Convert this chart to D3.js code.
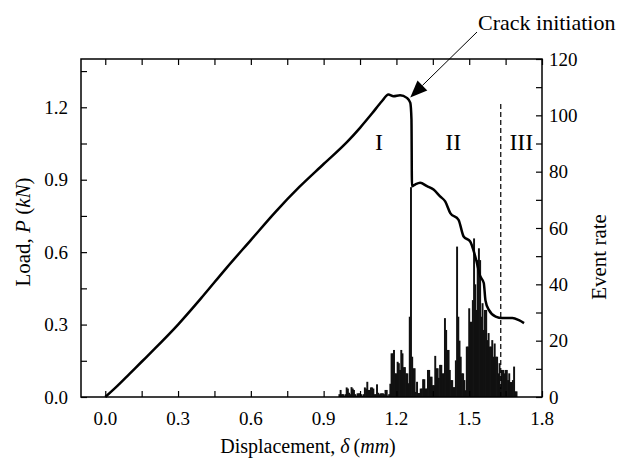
<!DOCTYPE html>
<html>
<head>
<meta charset="utf-8">
<script src="https://cdn.jsdelivr.net/npm/d3@7"></script>
<style>
body { margin: 0; background: #fff; }
svg { font-family: "Liberation Serif", "Times New Roman", serif; }
</style>
</head>
<body>
<script>
// load-displacement curve
var disp = [0, 0.05, 0.1, 0.15, 0.2, 0.3, 0.4, 0.5, 0.6, 0.7, 0.8, 0.9, 1.0, 1.05, 1.1, 1.14,
    1.167, 1.188, 1.215, 1.243, 1.257, 1.262, 1.264, 1.277, 1.298, 1.326, 1.353, 1.38, 1.401,
    1.422, 1.456, 1.477, 1.504, 1.525, 1.546, 1.56, 1.567, 1.581, 1.609, 1.636, 1.678, 1.705, 1.726];
var load = [0, 0.046, 0.096, 0.146, 0.196, 0.30, 0.415, 0.535, 0.65, 0.765, 0.87, 0.965, 1.06, 1.115, 1.175, 1.225,
    1.253, 1.246, 1.25, 1.239, 1.219, 1.15, 0.873, 0.88, 0.887, 0.873, 0.859, 0.831, 0.81,
    0.762, 0.734, 0.665, 0.644, 0.582, 0.499, 0.472, 0.40, 0.361, 0.333, 0.327, 0.327, 0.318, 0.306];

// acoustic emission event rate, one bar every 0.005 mm from 0.965 mm
var eventStart = 0.965, eventStep = 0.005;
var eventRate = [1, 2.5, 1, 1, 0.5, 1, 3.4, 3, 1.5, 1, 3.5, 3, 2.5, 1, 0.5, 1.3, 1.3, 1.3, 1, 0.5,
    1, 3.4, 3, 5.4, 2.5, 2.5, 3.4, 3.4, 3, 1, 1, 4.5, 1.5, 1, 1.3, 1.3, 1.3, 1, 2.5, 2.5,
    0.5, 1, 4.7, 15.5, 15.5, 16.7, 8.4, 8.4, 12.5, 12, 9.6, 16.7, 15.5, 10.6, 10.6, 8.4, 8.4, 4.9, 28.5, 74.5,
    14.3, 10.2, 10.2, 1.8, 5.4, 1.4, 1.4, 3, 3, 6.3, 6.3, 3, 3, 9.6, 9.6, 7.2, 7.2, 4.2, 4.2, 14.6,
    10.2, 10.2, 6.8, 11.4, 11.4, 8.4, 8.4, 28, 23.8, 16.7, 16.7, 9.6, 6, 6, 3.5, 3.5, 13, 53.4, 28.5, 20,
    14.3, 8.4, 8.4, 6, 2.4, 17.9, 17.9, 31.5, 26.7, 26.7, 34.4, 56.3, 40, 30.9, 48.6, 52.8, 48.6, 28.5, 33.3, 23.8,
    30.9, 30.9, 20.2, 22.7, 17.9, 17.9, 20.2, 14.3, 19, 14.3, 14.3, 8.4, 12, 3.5, 9.6, 9.6, 8.4, 9.6, 9.6, 6,
    8.4, 5.3, 5.3, 6, 10.8, 2, 2];

var xTicks = [0, 0.3, 0.6, 0.9, 1.2, 1.5, 1.8];
var loadTicks = [0, 0.3, 0.6, 0.9, 1.2];
var rateTicks = [0, 20, 40, 60, 80, 100, 120];
var regions = [{label: "I", d: 1.128}, {label: "II", d: 1.434}, {label: "III", d: 1.715}];
var boundary = 1.63;

var width = 619, height = 462;
var margin = {top: 59, right: 77, bottom: 65, left: 81};

var svg = d3.select("body").append("svg")
    .attr("width", width)
    .attr("height", height);

var x = d3.scaleLinear().domain([-0.1, 1.8]).range([margin.left, width - margin.right]);
var yL = d3.scaleLinear().domain([0, 1.4]).range([height - margin.bottom, margin.top]);
var yR = d3.scaleLinear().domain([0, 120]).range([height - margin.bottom, margin.top]);

var x0 = margin.left, x1 = width - margin.right, y0 = height - margin.bottom, y1 = margin.top;

// event rate bars (slightly overlapping so the busy part reads solid)
var barW = (x(eventStep) - x(0)) * 1.6;
svg.append("g")
    .selectAll("rect")
    .data(eventRate)
    .enter().append("rect")
    .attr("x", function (d, i) { return x(eventStart + i * eventStep) - barW / 2; })
    .attr("y", function (d) { return yR(d); })
    .attr("width", barW)
    .attr("height", function (d) { return y0 - yR(d); })
    .attr("fill", "#111");

// boundary II / III
svg.append("line")
    .attr("x1", x(boundary)).attr("x2", x(boundary))
    .attr("y1", yR(0)).attr("y2", yR(104))
    .attr("stroke", "#000")
    .attr("stroke-width", 1.2)
    .attr("stroke-dasharray", "5,3");

// load curve
var line = d3.line()
    .x(function (d, i) { return x(disp[i]); })
    .y(function (d) { return yL(d); })
    .curve(d3.curveMonotoneX);

svg.append("path")
    .datum(load)
    .attr("d", line)
    .attr("fill", "none")
    .attr("stroke", "#000")
    .attr("stroke-width", 2.5)
    .attr("stroke-linejoin", "round");

// axes, ticks pointing inside
var minorX = d3.range(0, 1.81, 0.15);
var minorL = d3.range(0, 1.36, 0.15);
var minorR = d3.range(0, 121, 10);

svg.append("g")
    .attr("transform", "translate(0," + y0 + ")")
    .call(d3.axisTop(x).tickValues(minorX).tickSize(6).tickFormat(""));
svg.append("g")
    .attr("transform", "translate(0," + y1 + ")")
    .call(d3.axisBottom(x).tickValues(minorX).tickSize(6).tickFormat(""));
svg.append("g")
    .attr("transform", "translate(" + x0 + ",0)")
    .call(d3.axisRight(yL).tickValues(minorL).tickSize(6).tickFormat(""));
svg.append("g")
    .attr("transform", "translate(" + x1 + ",0)")
    .call(d3.axisLeft(yR).tickValues(minorR).tickSize(6).tickFormat(""));

svg.selectAll(".domain").remove();
svg.selectAll(".tick line").attr("stroke", "#000").attr("stroke-width", 1.2);

svg.append("rect")
    .attr("x", x0).attr("y", y1)
    .attr("width", x1 - x0).attr("height", y0 - y1)
    .attr("fill", "none")
    .attr("stroke", "#000")
    .attr("stroke-width", 1.5);

// tick labels
svg.append("g").selectAll("text")
    .data(xTicks)
    .enter().append("text")
    .attr("x", function (d) { return x(d); })
    .attr("y", y0 + 28)
    .attr("text-anchor", "middle")
    .attr("font-size", 19)
    .text(function (d) { return d.toFixed(1); });

svg.append("g").selectAll("text")
    .data(loadTicks)
    .enter().append("text")
    .attr("x", x0 - 13)
    .attr("y", function (d) { return yL(d); })
    .attr("dy", "0.35em")
    .attr("text-anchor", "end")
    .attr("font-size", 19)
    .text(function (d) { return d.toFixed(1); });

svg.append("g").selectAll("text")
    .data(rateTicks)
    .enter().append("text")
    .attr("x", x1 + 7)
    .attr("y", function (d) { return yR(d); })
    .attr("dy", "0.35em")
    .attr("font-size", 19)
    .text(function (d) { return d; });

// axis titles
var xt = svg.append("text")
    .attr("x", 308).attr("y", 453)
    .attr("text-anchor", "middle")
    .attr("font-size", 20);
xt.append("tspan").text("Displacement, ");
xt.append("tspan").attr("font-style", "italic").text("δ");
xt.append("tspan").text("\u2009(");
xt.append("tspan").attr("font-style", "italic").text("mm");
xt.append("tspan").text(")");

var yt = svg.append("text")
    .attr("transform", "translate(30,232) rotate(-90)")
    .attr("text-anchor", "middle")
    .attr("font-size", 21);
yt.append("tspan").text("Load, ");
yt.append("tspan").attr("font-style", "italic").text("P");
yt.append("tspan").text(" (");
yt.append("tspan").attr("font-style", "italic").text("kN");
yt.append("tspan").text(")");

svg.append("text")
    .attr("transform", "translate(606,257) rotate(-90)")
    .attr("text-anchor", "middle")
    .attr("font-size", 21)
    .text("Event rate");

// region labels
svg.append("g").selectAll("text")
    .data(regions)
    .enter().append("text")
    .attr("x", function (d) { return x(d.d); })
    .attr("y", 150)
    .attr("text-anchor", "middle")
    .attr("font-size", 24)
    .text(function (d) { return d.label; });

// crack initiation arrow
var tip = [x(1.257), yL(1.241)], tail = [477, 32];
var ang = Math.atan2(tip[1] - tail[1], tip[0] - tail[0]);
var hl = 17, hw = 7;
var bx = tip[0] - hl * Math.cos(ang), by = tip[1] - hl * Math.sin(ang);
svg.append("line")
    .attr("x1", tail[0]).attr("y1", tail[1])
    .attr("x2", bx).attr("y2", by)
    .attr("stroke", "#000").attr("stroke-width", 1);
svg.append("path")
    .attr("d", "M" + tip[0] + "," + tip[1] +
        "L" + (bx + hw * Math.sin(ang)) + "," + (by - hw * Math.cos(ang)) +
        "L" + (bx - hw * Math.sin(ang)) + "," + (by + hw * Math.cos(ang)) + "Z")
    .attr("fill", "#000");

svg.append("text")
    .attr("x", 478).attr("y", 30)
    .attr("font-size", 22)
    .text("Crack initiation");
</script>
</body>
</html>
